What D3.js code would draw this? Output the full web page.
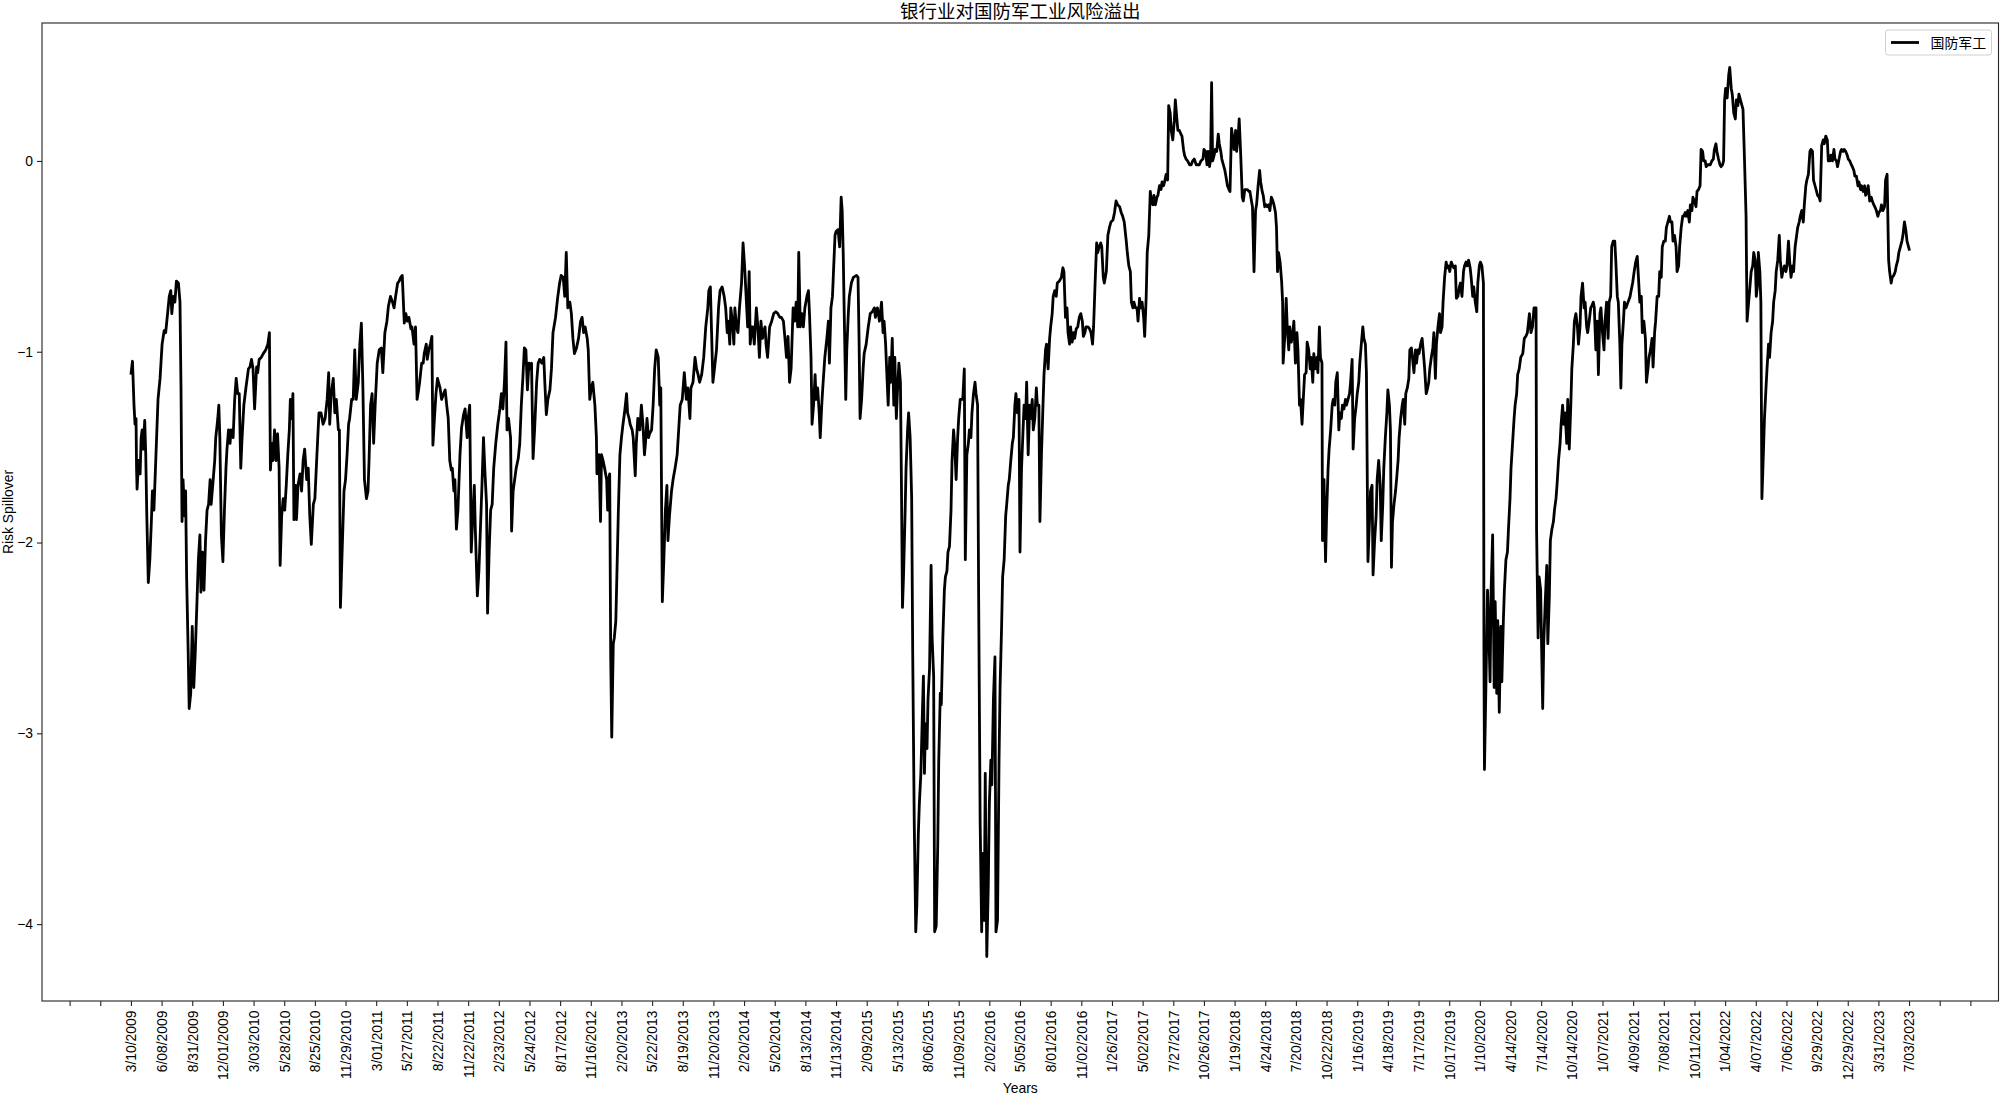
<!DOCTYPE html>
<html>
<head>
<meta charset="utf-8">
<style>
  body { margin: 0; background: #fff; }
  .axis .domain { display: none; }
  .axis line { stroke: #222; stroke-width: 1.1; }
  .axis text { font-family: "Liberation Sans", Arial, sans-serif; font-size: 13.9px; fill: #000; }
</style>
</head>
<body>
<svg width="2000" height="1098"></svg>
<script src="https://cdn.jsdelivr.net/npm/d3@7/dist/d3.min.js"></script>
<script>

// x tick labels, one every 60 trading days starting at day 0
var tickLabels = ["3/10/2009","6/08/2009","8/31/2009","12/01/2009","3/03/2010","5/28/2010","8/25/2010","11/29/2010",
  "3/01/2011","5/27/2011","8/22/2011","11/22/2011","2/23/2012","5/24/2012","8/17/2012","11/16/2012","2/20/2013",
  "5/22/2013","8/19/2013","11/20/2013","2/20/2014","5/20/2014","8/13/2014","11/13/2014","2/09/2015","5/13/2015",
  "8/06/2015","11/09/2015","2/02/2016","5/05/2016","8/01/2016","11/02/2016","1/26/2017","5/02/2017","7/27/2017",
  "10/26/2017","1/19/2018","4/24/2018","7/20/2018","10/22/2018","1/16/2019","4/18/2019","7/17/2019","10/17/2019",
  "1/10/2020","4/14/2020","7/14/2020","10/14/2020","1/07/2021","4/09/2021","7/08/2021","10/11/2021","1/04/2022",
  "4/07/2022","7/06/2022","9/29/2022","12/29/2022","3/31/2023","7/03/2023"];

var yTicks = [0, -1, -2, -3, -4];

// [trading day index, risk spillover]
var spill2009_2012 = [[0,-1.12],[3,-1.05],[6,-1.28],[8,-1.38],[10,-1.35],[11,-1.61],[12,-1.72],[15,-1.57],[18,-1.64],[20,-1.45],[22,-1.41],[24,-1.51],[27,-1.36],[29,-1.54],[31,-1.85],[34,-2.21],[37,-2.09],[40,-1.89],[42,-1.73],[45,-1.83],[49,-1.54],[53,-1.25],[57,-1.14],[61,-0.96],[65,-0.89],[68,-0.90],[71,-0.82],[75,-0.71],[78,-0.68],[80,-0.80],[83,-0.71],[86,-0.74],[89,-0.63],[93,-0.64],[96,-0.74],[98,-1.19],[100,-1.89],[102,-1.67],[105,-1.86],[107,-1.73],[109,-2.18],[112,-2.57],[114,-2.87],[117,-2.79],[120,-2.44],[123,-2.76],[126,-2.57],[130,-2.25],[132,-2.09],[135,-1.96],[137,-2.26],[140,-2.05],[143,-2.25],[146,-1.99],[149,-1.83],[152,-1.80],[155,-1.67],[157,-1.80],[161,-1.67],[164,-1.57],[166,-1.45],[170,-1.35],[172,-1.28],[174,-1.45],[177,-1.96],[180,-2.10],[183,-1.83],[186,-1.61],[188,-1.51],[191,-1.41],[194,-1.48],[196,-1.41],[200,-1.45],[203,-1.25],[206,-1.14],[209,-1.22],[212,-1.22],[215,-1.61],[217,-1.48],[221,-1.28],[225,-1.19],[230,-1.09],[233,-1.08],[236,-1.04],[239,-1.09],[242,-1.30],[246,-1.08],[248,-1.11],[251,-1.04],[255,-1.03],[259,-1.01],[264,-0.99],[268,-0.96],[271,-0.90],[273,-1.62],[276,-1.48],[278,-1.57],[281,-1.41],[284,-1.57],[287,-1.43],[290,-1.61],[292,-2.12],[295,-1.86],[298,-1.77],[301,-1.83],[304,-1.70],[307,-1.54],[310,-1.41],[312,-1.25],[315,-1.35],[317,-1.22],[319,-1.88],[322,-1.70],[324,-1.88],[327,-1.70],[331,-1.64],[334,-1.73],[337,-1.57],[340,-1.51],[344,-1.67],[347,-1.61],[350,-1.86],[353,-2.01],[357,-1.80],[360,-1.77],[364,-1.54],[368,-1.32],[372,-1.32],[376,-1.38],[380,-1.35],[384,-1.25],[387,-1.11],[389,-1.38],[392,-1.22],[396,-1.14],[399,-1.32],[402,-1.25],[406,-1.41],[408,-1.41],[410,-2.34],[414,-1.99],[417,-1.73],[420,-1.67],[423,-1.54],[426,-1.38],[428,-1.35],[432,-1.25],[435,-1.25],[438,-0.99],[441,-1.25],[445,-1.16],[448,-0.96],[451,-0.85],[454,-1.19],[457,-1.67],[461,-1.77],[464,-1.73],[466,-1.57],[469,-1.28],[472,-1.22],[475,-1.48],[478,-1.28],[482,-1.06],[486,-0.99],[490,-0.98],[493,-1.11],[497,-0.90],[501,-0.84],[504,-0.76],[508,-0.71],[512,-0.74],[515,-0.77],[518,-0.71],[522,-0.64],[525,-0.63],[528,-0.61],[531,-0.60],[535,-0.85],[538,-0.80],[541,-0.84],[544,-0.82],[548,-0.88],[550,-0.87],[554,-0.96],[557,-0.87],[560,-1.25],[563,-1.20],[565,-1.16],[569,-1.06],[572,-1.06],[574,-1.01],[578,-0.96],[580,-1.04],[583,-0.99],[586,-0.96],[589,-0.92],[591,-1.49],[594,-1.35],[597,-1.22],[600,-1.14],[602,-1.16],[605,-1.19],[608,-1.25],[612,-1.22],[615,-1.20],[618,-1.28],[621,-1.35],[624,-1.57],[627,-1.62],[629,-1.61],[632,-1.73],[634,-1.67],[637,-1.93],[640,-1.83],[644,-1.54],[647,-1.40],[651,-1.33],[654,-1.30],[658,-1.45],[660,-1.35],[663,-1.28],[666,-2.05],[669,-1.86],[672,-1.70],[674,-1.93],[678,-2.28],[681,-2.15],[684,-1.93],[687,-1.70],[690,-1.45],[693,-1.64],[696,-1.80],[698,-2.37],[701,-2.05],[704,-1.83],[707,-1.80],[710,-1.61],[714,-1.48],[718,-1.38],[722,-1.30],[725,-1.22],[728,-1.30],[731,-1.16],[734,-0.95],[736,-1.41],[739,-1.35],[743,-1.45],[745,-1.94],[748,-1.73],[751,-1.67],[754,-1.61],[758,-1.56],[761,-1.48],[764,-1.28],[767,-1.14],[770,-0.98],[773,-0.99],[776,-1.20],[779,-1.06],[782,-1.09],[784,-1.06],[787,-1.56],[790,-1.41],[794,-1.16],[797,-1.06],[800,-1.04],[804,-1.06],[808,-1.03],[810,-1.16],[813,-1.33],[816,-1.25],[820,-1.20],[823,-1.09],[826,-0.90],[831,-0.82],[835,-0.72],[839,-0.64],[842,-0.60],[846,-0.61],[849,-0.71],[852,-0.48],[855,-0.77],[859,-0.74],[862,-0.80],[865,-0.93],[868,-1.01],[872,-0.98],[876,-0.93],[880,-0.84],[883,-0.82],[886,-0.90],[889,-0.87],[893,-0.93],[895,-0.99]];

var spill2012_2016 = [[898,-1.25],[901,-1.19],[904,-1.16],[908,-1.28],[911,-1.45],[912,-1.64],[916,-1.54],[919,-1.89],[921,-1.54],[924,-1.57],[927,-1.61],[931,-1.67],[933,-1.83],[935,-1.67],[937,-1.64],[939,-2.60],[941,-3.02],[944,-2.53],[946,-2.50],[949,-2.41],[951,-2.18],[954,-1.83],[957,-1.54],[960,-1.45],[963,-1.38],[966,-1.32],[970,-1.22],[972,-1.32],[975,-1.35],[977,-1.38],[981,-1.41],[983,-1.45],[987,-1.65],[989,-1.48],[992,-1.35],[996,-1.41],[999,-1.28],[1002,-1.38],[1005,-1.54],[1007,-1.48],[1010,-1.35],[1013,-1.45],[1015,-1.43],[1019,-1.41],[1022,-1.28],[1025,-1.09],[1028,-0.99],[1032,-1.03],[1035,-1.28],[1037,-1.19],[1040,-2.31],[1043,-2.09],[1046,-1.83],[1049,-1.70],[1051,-1.99],[1054,-1.86],[1058,-1.73],[1061,-1.67],[1065,-1.61],[1069,-1.54],[1072,-1.41],[1075,-1.28],[1079,-1.25],[1083,-1.11],[1087,-1.25],[1090,-1.19],[1094,-1.35],[1096,-1.19],[1100,-1.16],[1104,-1.03],[1107,-1.09],[1110,-1.12],[1113,-1.16],[1117,-1.12],[1121,-1.03],[1125,-0.87],[1129,-0.77],[1131,-0.68],[1134,-0.66],[1137,-0.96],[1139,-1.16],[1142,-1.09],[1146,-0.99],[1150,-0.77],[1153,-0.68],[1157,-0.66],[1161,-0.71],[1164,-0.77],[1167,-0.90],[1169,-0.84],[1172,-0.96],[1174,-0.77],[1177,-0.84],[1180,-0.96],[1182,-0.77],[1185,-0.87],[1188,-0.90],[1191,-0.77],[1195,-0.64],[1198,-0.43],[1201,-0.55],[1204,-0.71],[1207,-0.87],[1210,-0.58],[1212,-0.96],[1215,-0.87],[1217,-0.87],[1220,-0.96],[1224,-0.77],[1227,-0.87],[1230,-1.03],[1233,-0.84],[1236,-0.93],[1238,-0.90],[1241,-0.87],[1243,-0.96],[1246,-1.03],[1250,-0.87],[1254,-0.84],[1258,-0.80],[1262,-0.79],[1266,-0.80],[1270,-0.82],[1273,-0.82],[1277,-0.84],[1280,-0.93],[1283,-1.03],[1286,-0.92],[1289,-1.16],[1292,-1.09],[1296,-0.77],[1299,-0.84],[1302,-0.74],[1305,-0.87],[1307,-0.48],[1310,-0.87],[1313,-0.80],[1316,-0.87],[1319,-0.77],[1323,-0.71],[1326,-0.68],[1328,-0.80],[1331,-1.03],[1333,-1.38],[1336,-1.28],[1339,-1.12],[1341,-1.25],[1344,-1.19],[1347,-1.32],[1349,-1.45],[1352,-1.28],[1354,-1.19],[1358,-1.03],[1362,-0.93],[1365,-0.84],[1367,-1.06],[1370,-0.77],[1373,-0.71],[1375,-0.58],[1378,-0.39],[1380,-0.37],[1384,-0.36],[1387,-0.45],[1390,-0.19],[1392,-0.26],[1394,-0.48],[1396,-0.80],[1399,-1.25],[1401,-0.99],[1404,-0.80],[1406,-0.71],[1410,-0.64],[1414,-0.61],[1420,-0.60],[1423,-0.61],[1425,-0.93],[1427,-1.35],[1430,-1.25],[1433,-1.09],[1435,-1.01],[1439,-0.96],[1443,-0.87],[1447,-0.80],[1451,-0.79],[1455,-0.77],[1457,-0.82],[1461,-0.77],[1465,-0.84],[1469,-0.74],[1472,-0.90],[1474,-0.84],[1477,-0.96],[1479,-1.09],[1482,-1.28],[1485,-1.03],[1487,-1.16],[1490,-0.93],[1493,-1.28],[1495,-1.03],[1498,-1.35],[1500,-1.22],[1503,-1.06],[1506,-1.16],[1508,-1.70],[1510,-2.34],[1512,-2.18],[1515,-1.86],[1517,-1.61],[1520,-1.41],[1522,-1.32],[1525,-1.45],[1528,-1.77],[1530,-2.57],[1533,-3.46],[1536,-4.04],[1538,-3.91],[1541,-3.53],[1543,-3.37],[1546,-3.21],[1549,-2.89],[1551,-2.70],[1553,-3.21],[1555,-2.95],[1558,-3.08],[1560,-2.82],[1563,-2.66],[1566,-2.12],[1568,-2.50],[1571,-2.70],[1573,-4.04],[1576,-4.01],[1579,-3.59],[1581,-3.14],[1584,-2.79],[1586,-2.85],[1589,-2.50],[1592,-2.25],[1594,-2.18],[1597,-2.15],[1599,-2.05],[1602,-2.02],[1605,-1.83],[1607,-1.57],[1610,-1.41],[1612,-1.48],[1615,-1.67],[1618,-1.45],[1620,-1.35],[1623,-1.25],[1626,-1.25],[1628,-1.25],[1631,-1.09],[1633,-2.09],[1636,-1.54],[1639,-1.48],[1641,-1.41],[1644,-1.45],[1646,-1.32],[1649,-1.22],[1652,-1.16],[1654,-1.22],[1657,-1.28],[1659,-2.25],[1662,-3.46],[1665,-4.04],[1667,-3.63],[1670,-3.98],[1672,-3.21],[1675,-4.17],[1678,-3.79],[1680,-3.37],[1683,-3.14],[1685,-3.27],[1688,-2.82],[1691,-2.60],[1693,-4.04],[1696,-3.98],[1699,-3.14],[1701,-2.76],[1704,-2.44],[1706,-2.18],[1709,-2.09],[1712,-1.86],[1714,-1.80],[1717,-1.70],[1719,-1.67],[1722,-1.57],[1725,-1.48],[1727,-1.45],[1730,-1.28],[1732,-1.22],[1735,-1.32],[1738,-1.25],[1740,-2.05],[1743,-1.61],[1746,-1.41],[1748,-1.28],[1751,-1.35],[1753,-1.16],[1756,-1.54],[1759,-1.28],[1761,-1.35],[1764,-1.25],[1766,-1.41],[1769,-1.35],[1772,-1.19],[1774,-1.28],[1777,-1.28],[1779,-1.89],[1782,-1.54],[1785,-1.28],[1787,-1.12],[1790,-0.99],[1792,-0.96],[1795,-1.09],[1798,-0.93],[1800,-0.87],[1803,-0.80],[1805,-0.71],[1808,-0.68],[1811,-0.71],[1813,-0.64]];

var spill2016_2020 = [[1817,-0.63],[1821,-0.61],[1824,-0.56],[1826,-0.58],[1829,-0.82],[1832,-0.77],[1834,-0.90],[1837,-0.96],[1839,-0.87],[1842,-0.95],[1845,-0.90],[1847,-0.93],[1850,-0.88],[1853,-0.87],[1856,-0.82],[1859,-0.80],[1862,-0.84],[1864,-0.92],[1867,-0.90],[1869,-0.87],[1873,-0.87],[1876,-0.88],[1879,-0.90],[1882,-0.96],[1884,-0.87],[1887,-0.64],[1890,-0.43],[1892,-0.48],[1895,-0.45],[1898,-0.43],[1900,-0.45],[1903,-0.61],[1905,-0.64],[1909,-0.58],[1912,-0.39],[1915,-0.35],[1918,-0.32],[1922,-0.31],[1925,-0.27],[1928,-0.21],[1931,-0.23],[1935,-0.24],[1938,-0.27],[1941,-0.29],[1944,-0.32],[1948,-0.42],[1950,-0.48],[1953,-0.55],[1956,-0.58],[1958,-0.74],[1961,-0.77],[1963,-0.74],[1966,-0.77],[1969,-0.77],[1971,-0.84],[1974,-0.72],[1976,-0.77],[1979,-0.74],[1982,-0.82],[1984,-0.92],[1987,-0.71],[1989,-0.48],[1992,-0.39],[1995,-0.16],[1997,-0.21],[2000,-0.23],[2002,-0.18],[2005,-0.23],[2008,-0.19],[2010,-0.18],[2013,-0.13],[2016,-0.15],[2018,-0.11],[2021,-0.13],[2023,-0.11],[2026,-0.07],[2029,-0.10],[2031,0.29],[2034,0.25],[2036,0.16],[2039,0.11],[2042,0.21],[2044,0.32],[2047,0.22],[2049,0.16],[2052,0.16],[2055,0.14],[2057,0.13],[2060,0.06],[2062,0.03],[2065,0.01],[2068,0.00],[2072,-0.02],[2075,-0.02],[2078,0.00],[2081,0.01],[2085,-0.02],[2088,-0.02],[2091,-0.02],[2094,0.00],[2098,0.01],[2100,0.06],[2103,0.05],[2106,-0.02],[2108,0.05],[2111,-0.03],[2113,0.01],[2115,0.41],[2117,0.00],[2120,0.03],[2122,0.06],[2125,0.05],[2128,0.14],[2130,0.09],[2133,0.05],[2135,0.01],[2138,-0.02],[2141,-0.05],[2143,-0.08],[2146,-0.13],[2149,-0.15],[2151,-0.16],[2154,0.17],[2156,0.13],[2159,0.06],[2162,0.16],[2164,0.05],[2167,0.13],[2169,0.22],[2172,0.03],[2175,-0.19],[2177,-0.21],[2180,-0.15],[2182,-0.15],[2185,-0.15],[2188,-0.16],[2190,-0.16],[2193,-0.21],[2195,-0.24],[2198,-0.58],[2201,-0.26],[2203,-0.23],[2206,-0.13],[2209,-0.05],[2211,-0.11],[2214,-0.16],[2216,-0.18],[2219,-0.24],[2222,-0.23],[2224,-0.24],[2227,-0.23],[2229,-0.26],[2232,-0.19],[2235,-0.21],[2237,-0.23],[2240,-0.27],[2242,-0.35],[2244,-0.58],[2246,-0.48],[2249,-0.53],[2252,-0.63],[2254,-0.74],[2255,-1.06],[2258,-0.93],[2261,-0.72],[2263,-0.87],[2266,-0.99],[2268,-0.87],[2271,-0.95],[2274,-0.90],[2276,-0.84],[2279,-1.06],[2282,-0.90],[2284,-0.99],[2287,-1.28],[2289,-1.25],[2292,-1.38],[2295,-1.22],[2297,-1.12],[2300,-1.11],[2302,-0.95],[2305,-0.99],[2308,-1.09],[2310,-1.03],[2313,-1.16],[2315,-1.01],[2318,-1.09],[2321,-1.03],[2323,-1.11],[2326,-0.87],[2328,-1.03],[2331,-1.06],[2332,-1.99],[2335,-1.67],[2338,-2.10],[2340,-1.86],[2343,-1.61],[2345,-1.51],[2348,-1.41],[2351,-1.28],[2353,-1.25],[2356,-1.28],[2358,-1.16],[2361,-1.11],[2364,-1.41],[2366,-1.32],[2369,-1.35],[2371,-1.28],[2374,-1.30],[2377,-1.25],[2379,-1.28],[2382,-1.25],[2385,-1.22],[2387,-1.16],[2390,-1.04],[2392,-1.51],[2395,-1.35],[2398,-1.28],[2400,-1.22],[2403,-1.16],[2405,-1.06],[2408,-0.96],[2411,-0.87],[2413,-0.93],[2416,-0.96],[2418,-1.11],[2421,-2.10],[2424,-1.89],[2426,-1.73],[2429,-1.70],[2431,-2.17],[2434,-1.99],[2437,-1.86],[2439,-1.67],[2442,-1.57],[2445,-1.70],[2447,-1.99],[2450,-1.80],[2452,-1.61],[2455,-1.45],[2458,-1.32],[2460,-1.20],[2463,-1.28],[2465,-1.41],[2467,-2.13],[2469,-1.89],[2472,-1.80],[2475,-1.73],[2477,-1.67],[2480,-1.57],[2482,-1.45],[2485,-1.35],[2488,-1.28],[2490,-1.25],[2493,-1.38],[2495,-1.22],[2498,-1.19],[2501,-1.14],[2503,-0.99],[2506,-0.98],[2508,-1.03],[2511,-1.11],[2514,-0.99],[2516,-1.06],[2519,-0.99],[2521,-1.01],[2524,-0.96],[2527,-0.93],[2529,-0.99],[2532,-1.09],[2535,-1.22],[2537,-1.20],[2540,-1.16],[2542,-1.09],[2545,-1.03],[2548,-0.98],[2550,-0.90],[2553,-1.14],[2555,-0.96],[2558,-0.87],[2561,-0.80],[2563,-0.90],[2566,-0.87],[2568,-0.74],[2571,-0.61],[2574,-0.53],[2576,-0.56],[2579,-0.55],[2581,-0.58],[2584,-0.53],[2587,-0.55],[2589,-0.56],[2592,-0.55],[2594,-0.72],[2597,-0.71],[2600,-0.66],[2602,-0.64],[2605,-0.71],[2608,-0.58],[2610,-0.55],[2613,-0.53],[2615,-0.55],[2618,-0.52],[2621,-0.56],[2623,-0.61],[2626,-0.71],[2628,-0.66],[2631,-0.74],[2634,-0.79],[2636,-0.64],[2639,-0.55],[2641,-0.53],[2644,-0.55],[2647,-0.64],[2648,-2.57],[2649,-3.19],[2652,-2.73],[2655,-2.25],[2657,-2.41],[2660,-2.73],[2662,-2.25],[2665,-1.96],[2668,-2.76],[2670,-2.31],[2673,-2.79],[2675,-2.41],[2678,-2.89],[2681,-2.44],[2683,-2.73],[2686,-2.41],[2688,-2.25],[2691,-2.09],[2694,-2.05],[2696,-1.93],[2699,-1.77],[2701,-1.61],[2704,-1.48],[2707,-1.35],[2709,-1.28],[2712,-1.22],[2714,-1.12]];

var spill2020_2023 = [[2717,-1.09],[2720,-1.03],[2724,-1.01],[2727,-0.93],[2730,-0.92],[2733,-0.90],[2737,-0.80],[2740,-0.90],[2743,-0.87],[2746,-0.77],[2750,-0.77],[2751,-1.93],[2754,-2.50],[2756,-2.18],[2759,-2.25],[2761,-2.57],[2763,-2.87],[2765,-2.53],[2768,-2.31],[2771,-2.12],[2773,-2.53],[2776,-2.28],[2778,-1.99],[2781,-1.93],[2784,-1.89],[2786,-1.83],[2789,-1.77],[2791,-1.70],[2794,-1.57],[2797,-1.48],[2799,-1.38],[2802,-1.28],[2804,-1.38],[2807,-1.32],[2810,-1.48],[2812,-1.25],[2815,-1.51],[2818,-1.28],[2820,-1.09],[2823,-0.96],[2825,-0.84],[2828,-0.80],[2831,-0.87],[2833,-0.96],[2836,-0.87],[2838,-0.71],[2841,-0.64],[2844,-0.77],[2846,-0.74],[2849,-0.87],[2851,-0.90],[2854,-0.84],[2857,-0.77],[2859,-0.76],[2862,-0.74],[2864,-0.77],[2867,-0.99],[2870,-0.84],[2872,-1.12],[2875,-0.80],[2877,-0.77],[2880,-0.90],[2883,-0.99],[2885,-0.84],[2888,-0.74],[2891,-0.93],[2893,-0.74],[2896,-0.71],[2898,-0.45],[2901,-0.42],[2904,-0.42],[2906,-0.52],[2909,-0.71],[2911,-0.74],[2914,-0.96],[2916,-1.19],[2918,-0.96],[2921,-0.84],[2923,-0.74],[2926,-0.77],[2930,-0.74],[2934,-0.71],[2936,-0.68],[2939,-0.64],[2942,-0.58],[2945,-0.53],[2948,-0.50],[2951,-0.64],[2953,-0.74],[2956,-0.71],[2958,-0.90],[2961,-0.84],[2964,-0.93],[2966,-1.16],[2969,-1.09],[2971,-1.03],[2974,-0.99],[2977,-0.93],[2979,-1.08],[2982,-0.90],[2984,-0.84],[2987,-0.71],[2990,-0.71],[2992,-0.58],[2995,-0.61],[2997,-0.45],[3000,-0.42],[3003,-0.42],[3005,-0.35],[3008,-0.32],[3011,-0.29],[3013,-0.32],[3016,-0.32],[3018,-0.42],[3021,-0.39],[3024,-0.45],[3026,-0.58],[3029,-0.55],[3031,-0.45],[3034,-0.35],[3037,-0.29],[3039,-0.29],[3042,-0.27],[3044,-0.29],[3047,-0.26],[3050,-0.32],[3052,-0.23],[3055,-0.26],[3057,-0.19],[3060,-0.21],[3063,-0.24],[3065,-0.16],[3068,-0.15],[3071,-0.13],[3073,0.06],[3076,0.05],[3078,0.00],[3081,0.00],[3083,-0.03],[3086,-0.02],[3089,-0.02],[3091,-0.02],[3094,0.00],[3097,0.01],[3099,0.06],[3102,0.09],[3104,0.05],[3107,0.01],[3110,-0.02],[3112,-0.03],[3115,-0.02],[3117,0.00],[3119,0.32],[3121,0.38],[3124,0.33],[3127,0.45],[3129,0.49],[3132,0.38],[3134,0.35],[3137,0.25],[3140,0.22],[3142,0.32],[3145,0.29],[3147,0.35],[3150,0.32],[3153,0.29],[3155,0.27],[3158,0.00],[3161,-0.29],[3162,-0.58],[3163,-0.84],[3166,-0.74],[3168,-0.68],[3171,-0.58],[3174,-0.55],[3176,-0.48],[3179,-0.52],[3181,-0.71],[3184,-0.64],[3185,-0.48],[3188,-0.58],[3190,-0.74],[3192,-1.77],[3194,-1.61],[3197,-1.35],[3200,-1.19],[3202,-1.09],[3205,-0.96],[3207,-1.03],[3210,-0.90],[3213,-0.84],[3215,-0.74],[3218,-0.68],[3220,-0.58],[3223,-0.52],[3226,-0.39],[3228,-0.52],[3231,-0.61],[3233,-0.58],[3236,-0.55],[3239,-0.58],[3241,-0.55],[3244,-0.42],[3247,-0.55],[3249,-0.61],[3252,-0.55],[3254,-0.58],[3257,-0.45],[3260,-0.39],[3262,-0.35],[3265,-0.32],[3267,-0.29],[3270,-0.26],[3273,-0.32],[3275,-0.23],[3278,-0.13],[3280,-0.10],[3283,-0.07],[3286,0.05],[3288,0.06],[3291,0.05],[3293,-0.10],[3296,-0.13],[3299,-0.16],[3301,-0.18],[3304,-0.19],[3306,-0.21],[3309,0.08],[3312,0.11],[3314,0.09],[3317,0.13],[3320,0.11],[3322,0.00],[3325,0.00],[3327,0.03],[3330,0.00],[3333,0.06],[3335,0.01],[3338,0.00],[3340,-0.03],[3343,0.01],[3346,0.05],[3348,0.06],[3351,0.05],[3353,0.06],[3356,0.05],[3359,0.03],[3361,0.01],[3364,0.00],[3367,-0.02],[3369,-0.03],[3372,-0.05],[3374,-0.08],[3377,-0.08],[3380,-0.13],[3382,-0.11],[3385,-0.15],[3387,-0.13],[3390,-0.16],[3393,-0.13],[3395,-0.18],[3398,-0.16],[3400,-0.13],[3403,-0.21],[3406,-0.19],[3408,-0.21],[3411,-0.23],[3413,-0.24],[3416,-0.26],[3419,-0.29],[3421,-0.27],[3424,-0.26],[3426,-0.23],[3429,-0.26],[3432,-0.24],[3434,-0.10],[3437,-0.07],[3440,-0.52],[3442,-0.58],[3445,-0.64],[3447,-0.61],[3450,-0.60],[3453,-0.58],[3455,-0.55],[3458,-0.52],[3460,-0.48],[3463,-0.45],[3466,-0.42],[3468,-0.39],[3471,-0.32],[3474,-0.37],[3476,-0.42],[3479,-0.45],[3481,-0.47]];

var data = spill2009_2012.concat(spill2012_2016, spill2016_2020, spill2020_2023);

var svg = d3.select("svg"),
    margin = {top: 23, right: 1.5, bottom: 97, left: 42},
    width = +svg.attr("width") - margin.left - margin.right,
    height = +svg.attr("height") - margin.top - margin.bottom,
    g = svg.append("g").attr("transform", "translate(" + margin.left + "," + margin.top + ")");

// matplotlib style 5% margins around the data
var xExt = d3.extent(data, function(d) { return d[0]; }),
    yExt = d3.extent(data, function(d) { return d[1]; }),
    xPad = (xExt[1] - xExt[0]) * 0.05,
    yPad = (yExt[1] - yExt[0]) * 0.05;

var x = d3.scaleLinear().domain([xExt[0] - xPad, xExt[1] + xPad]).range([0, width]);
var y = d3.scaleLinear().domain([yExt[0] - yPad, yExt[1] + yPad]).range([height, 0]);

var xTicks = d3.range(-120, 3601, 60);

var line = d3.line()
    .x(function(d) { return x(d[0]); })
    .y(function(d) { return y(d[1]); });

g.append("path")
    .datum(data)
    .attr("fill", "none")
    .attr("stroke", "#000")
    .attr("stroke-width", 2.8)
    .attr("stroke-linejoin", "round")
    .attr("d", line);

// x axis
var xAxis = g.append("g")
    .attr("class", "axis")
    .attr("transform", "translate(0," + height + ")")
    .call(d3.axisBottom(x)
      .tickValues(xTicks)
      .tickSize(5)
      .tickSizeOuter(0)
      .tickFormat(function(t) { var i = t / 60; return (i >= 0 && i < tickLabels.length) ? tickLabels[i] : ""; }));

xAxis.selectAll("text")
    .attr("transform", "rotate(-90)")
    .attr("text-anchor", "end")
    .attr("x", -9.5)
    .attr("y", 0)
    .attr("dy", "0.35em");

// y axis
g.append("g")
    .attr("class", "axis")
    .call(d3.axisLeft(y)
      .tickValues(yTicks)
      .tickSize(5)
      .tickSizeOuter(0)
      .tickPadding(4)
      .tickFormat(function(t) { return t < 0 ? "\u2212" + Math.abs(t) : String(t); }));

// frame
g.append("rect")
    .attr("width", width)
    .attr("height", height)
    .attr("fill", "none")
    .attr("stroke", "#222")
    .attr("stroke-width", 1.1);

// title and axis labels
svg.append("text")
    .attr("x", margin.left + width / 2)
    .attr("y", 17.5)
    .attr("text-anchor", "middle")
    .attr("font-family", "Liberation Sans, Noto Sans CJK SC")
    .attr("font-size", 18.5)
    .text("银行业对国防军工业风险溢出");

svg.append("text")
    .attr("x", margin.left + width / 2)
    .attr("y", 1093)
    .attr("text-anchor", "middle")
    .attr("font-family", "Liberation Sans, Arial, sans-serif")
    .attr("font-size", 13.9)
    .text("Years");

svg.append("text")
    .attr("transform", "translate(13," + (margin.top + height / 2) + ") rotate(-90)")
    .attr("text-anchor", "middle")
    .attr("font-family", "Liberation Sans, Arial, sans-serif")
    .attr("font-size", 13.9)
    .text("Risk Spillover");

// legend
var legend = g.append("g")
    .attr("transform", "translate(" + (width - 7 - 106) + ",7)");

legend.append("rect")
    .attr("width", 106)
    .attr("height", 25)
    .attr("rx", 2.5)
    .attr("fill", "#fff")
    .attr("fill-opacity", 0.8)
    .attr("stroke", "#d0d0d0")
    .attr("stroke-width", 1);

legend.append("line")
    .attr("x1", 5.5)
    .attr("x2", 33.5)
    .attr("y1", 12.5)
    .attr("y2", 12.5)
    .attr("stroke", "#000")
    .attr("stroke-width", 2.8);

legend.append("text")
    .attr("x", 45)
    .attr("y", 12.5)
    .attr("dy", "0.36em")
    .attr("font-family", "Noto Sans CJK SC")
    .attr("font-size", 13.9)
    .text("国防军工");

</script>
</body>
</html>
